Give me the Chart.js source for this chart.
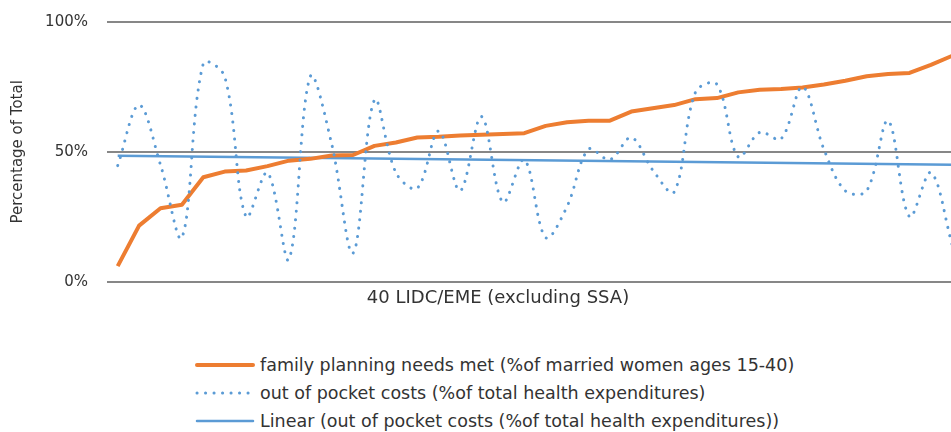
<!DOCTYPE html>
<html>
<head>
<meta charset="utf-8">
<title>Family planning vs out of pocket costs</title>
<script src="https://cdn.jsdelivr.net/npm/chart.js@4.4.1/dist/chart.umd.min.js"></script>
<style>
    html, body { margin: 0; padding: 0; background: #fff; overflow: hidden; }
    #wrap { position: relative; width: 994px; height: 432px; }
    #chart-box { position: absolute; left: 0; top: 0; width: 994px; height: 320px; }
    #legend {
        position: absolute; left: 195px; top: 351px;
        font-family: 'DejaVu Sans', sans-serif; font-size: 17.5px; color: #333;
    }
    .leg-item { display: flex; align-items: center; height: 28px; white-space: nowrap; }
    .leg-item svg { margin-right: 5px; }
</style>
</head>
<body>
<div id="wrap">
    <div id="chart-box"><canvas id="lineChart"></canvas></div>
    <div id="legend"></div>
</div>
<script>
// 40 LIDC/EME countries (excluding SSA), sorted by family planning needs met
const countries = [
    '1', '2', '3', '4', '5', '6', '7', '8', '9', '10',
    '11', '12', '13', '14', '15', '16', '17', '18', '19', '20',
    '21', '22', '23', '24', '25', '26', '27', '28', '29', '30',
    '31', '32', '33', '34', '35', '36', '37', '38', '39', '40'
];

const familyPlanning = [
    6, 21.6, 28.3, 29.6, 40.2, 42.4, 42.8, 44.5, 46.6, 47.3,
    48.6, 48.8, 52.3, 53.6, 55.5, 55.8, 56.3, 56.6, 56.9, 57.2,
    60, 61.4, 62, 62, 65.5, 66.8, 68, 70.3, 70.7, 72.9,
    73.9, 74.2, 74.8, 75.9, 77.4, 79.1, 80, 80.4, 83.5, 87
];

const outOfPocket = [
    44.7, 68, 45, 17, 84, 79, 25, 42, 8.6, 79,
    53, 11, 70, 42, 36, 58, 35, 63.6, 30.6, 47,
    17, 29, 51, 47, 55.5, 43, 34.5, 73, 76, 48,
    57.5, 55, 75, 51, 35, 35, 62, 25, 42, 14
];

// linear trend of out of pocket costs, first and last category
const trendEnds = [48.5, 45];

const FONT = "'DejaVu Sans', sans-serif";
const TEXT = '#333333';
const ORANGE = '#ED7D31';
const BLUE = '#5B9BD5';

let lineChart = null;

// legend drawn in html so items stack one per line, like the original
const htmlLegend = {
    id: 'htmlLegend',
    afterUpdate(chart) {
        const box = document.getElementById('legend');
        box.innerHTML = '';
        chart.data.datasets.forEach(ds => {
            const row = document.createElement('div');
            row.className = 'leg-item';
            const dash = ds.borderDash ? ' stroke-dasharray="' + ds.borderDash.join(' ') + '"' : '';
            row.innerHTML = '<svg width="60" height="12"><line x1="2" y1="6" x2="58" y2="6" stroke="' +
                ds.borderColor + '" stroke-width="' + ds.borderWidth + '" stroke-linecap="round"' + dash + '/></svg>';
            const span = document.createElement('span');
            span.textContent = ds.label;
            row.appendChild(span);
            box.appendChild(row);
        });
    }
};

function trendData() {
    return countries.map((c, i) => {
        if (i === 0) return trendEnds[0];
        if (i === countries.length - 1) return trendEnds[1];
        return null;
    });
}

function drawChart() {
    const ctx = document.getElementById('lineChart').getContext('2d');
    lineChart = new Chart(ctx, {
        type: 'line',
        data: {
            labels: countries,
            datasets: [
                {
                    label: 'family planning needs met (%of married women ages 15-40)',
                    data: familyPlanning,
                    borderColor: ORANGE,
                    backgroundColor: ORANGE,
                    borderWidth: 4,
                    borderJoinStyle: 'round',
                    tension: 0,
                    pointRadius: 0,
                    fill: false,
                    order: 2
                },
                {
                    label: 'out of pocket costs (%of total health expenditures)',
                    data: outOfPocket,
                    borderColor: BLUE,
                    backgroundColor: BLUE,
                    borderWidth: 3,
                    borderDash: [0.1, 8.4],
                    borderCapStyle: 'round',
                    tension: 0.35,
                    pointRadius: 0,
                    fill: false,
                    order: 1
                },
                {
                    label: 'Linear (out of pocket costs (%of total health expenditures))',
                    data: trendData(),
                    borderColor: BLUE,
                    backgroundColor: BLUE,
                    borderWidth: 2.5,
                    spanGaps: true,
                    tension: 0,
                    pointRadius: 0,
                    fill: false,
                    order: 3
                }
            ]
        },
        options: {
            responsive: true,
            maintainAspectRatio: false,
            animation: false,
            devicePixelRatio: 1,
            layout: { padding: { left: 33, right: 31, top: 22, bottom: 11.2 } },
            plugins: {
                legend: { display: false },
                tooltip: { enabled: false },
                title: {
                    display: true,
                    position: 'bottom',
                    text: '40 LIDC/EME (excluding SSA)',
                    color: TEXT,
                    font: { family: FONT, size: 18, weight: 'normal' },
                    padding: { top: 5.5, bottom: 0 }
                }
            },
            scales: {
                x: {
                    offset: true,
                    grid: { display: false, drawTicks: false },
                    border: { display: false },
                    ticks: { display: false },
                    afterFit: s => { s.height = 0; }
                },
                y: {
                    min: 0,
                    max: 100,
                    ticks: {
                        stepSize: 50,
                        padding: 3,
                        color: TEXT,
                        font: { family: FONT, size: 15 },
                        callback: v => v + '%'
                    },
                    grid: {
                        color: '#878787',
                        lineWidth: 2,
                        drawTicks: true,
                        tickLength: 16,
                        tickColor: 'rgba(0,0,0,0)'
                    },
                    border: { display: false },
                    title: {
                        display: true,
                        text: 'Percentage of Total',
                        color: TEXT,
                        font: { family: FONT, size: 15 },
                        padding: { top: -24, bottom: 0 }
                    },
                    afterFit: s => { s.width = 74; }
                }
            }
        },
        plugins: [htmlLegend]
    });
}

document.addEventListener('DOMContentLoaded', drawChart);
</script>
</body>
</html>
